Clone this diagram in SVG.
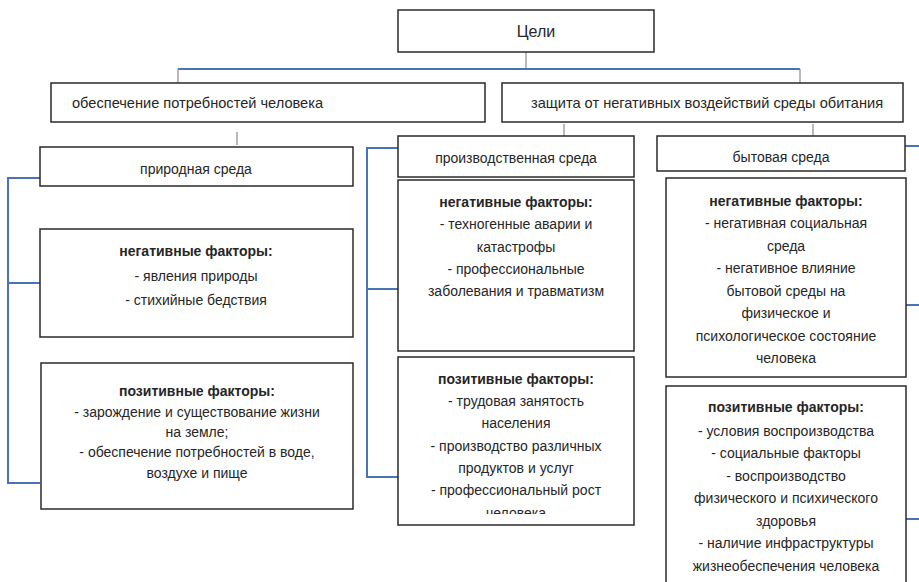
<svg xmlns="http://www.w3.org/2000/svg" width="919" height="582" viewBox="0 0 919 582">
<defs>
<style>
.box{fill:#fff;stroke:#2a2a2a;stroke-width:1.5}
.t{font-family:"Liberation Sans",Arial,sans-serif;font-size:14px;fill:#262626;text-anchor:middle}
.b{font-weight:bold}
.blue{fill:none;stroke:#4a72b8;stroke-width:2}
.tick{fill:none;stroke:#8a8a8a;stroke-width:1.2}
</style>
<clipPath id="clipMidPos"><rect x="398" y="357" width="236" height="157"/></clipPath>
</defs>
<rect width="919" height="582" fill="#fff"/>

<g id="connectors">
<path class="tick" d="M526 52V69"/>
<path class="blue" d="M178 69H800"/>
<path class="tick" d="M178 69V83M800 69V83"/>
<path class="tick" d="M237 132V145M564 124V136M813 124V136"/>
<path class="blue" d="M40 178H8V483H40M8 283H40"/>
<path class="blue" d="M398 148H367V477H398M367 289H398"/>
<path class="blue" d="M905 146H919M906 305H919M906 519H919"/>
</g>

<g id="goals">
<rect class="box" x="398" y="10" width="256" height="42"/>
<text class="t" x="536" y="37" style="font-size:16px">Цели</text>
</g>

<g id="needs">
<rect class="box" x="51" y="83" width="434" height="39"/>
<text class="t" x="72" y="108" style="text-anchor:start;font-size:14.6px">обеспечение потребностей человека</text>
</g>

<g id="protection">
<rect class="box" x="502" y="83" width="401" height="39"/>
<text class="t" x="707" y="108" style="font-size:14.6px">защита от негативных воздействий среды обитания</text>
</g>

<g id="natural">
<rect class="box" x="40" y="147" width="313" height="39"/>
<text class="t" x="196" y="174">природная среда</text>
</g>

<g id="natural-neg">
<rect class="box" x="40" y="229" width="313" height="108"/>
<text class="t b" x="196" y="256">негативные факторы:</text>
<text class="t" x="196" y="281">- явления природы</text>
<text class="t" x="196" y="305">- стихийные бедствия</text>
</g>

<g id="natural-pos">
<rect class="box" x="41" y="363" width="312" height="146"/>
<text class="t b" x="197" y="396">позитивные факторы:</text>
<text class="t" x="197" y="417">- зарождение и существование жизни</text>
<text class="t" x="197" y="437">на земле;</text>
<text class="t" x="197" y="457">- обеспечение потребностей в воде,</text>
<text class="t" x="197" y="478">воздухе и пище</text>
</g>

<g id="industrial">
<rect class="box" x="398" y="136" width="236" height="41"/>
<text class="t" x="516" y="163">производственная среда</text>
</g>

<g id="industrial-neg">
<rect class="box" x="398" y="180" width="236" height="171"/>
<text class="t b" x="516" y="207">негативные факторы:</text>
<text class="t" x="516" y="229">- техногенные аварии и</text>
<text class="t" x="516" y="252">катастрофы</text>
<text class="t" x="516" y="274">- профессиональные</text>
<text class="t" x="516" y="296">заболевания и травматизм</text>
</g>

<g id="industrial-pos">
<rect class="box" x="398" y="357" width="236" height="168"/>
<text class="t b" x="516" y="384">позитивные факторы:</text>
<text class="t" x="516" y="406">- трудовая занятость</text>
<text class="t" x="516" y="428">населения</text>
<text class="t" x="516" y="451">- производство различных</text>
<text class="t" x="516" y="473">продуктов  и услуг</text>
<text class="t" x="516" y="495">- профессиональный рост</text>
<text class="t" x="516" y="518" clip-path="url(#clipMidPos)">человека</text>
</g>

<g id="household">
<rect class="box" x="657" y="136" width="248" height="35"/>
<text class="t" x="781" y="162">бытовая среда</text>
</g>

<g id="household-neg">
<rect class="box" x="666" y="178" width="240" height="199"/>
<text class="t b" x="786" y="206">негативные факторы:</text>
<text class="t" x="786" y="228">- негативная социальная</text>
<text class="t" x="786" y="251">среда</text>
<text class="t" x="786" y="273">- негативное влияние</text>
<text class="t" x="786" y="296">бытовой среды на</text>
<text class="t" x="786" y="318">физическое и</text>
<text class="t" x="786" y="341">психологическое состояние</text>
<text class="t" x="786" y="363">человека</text>
</g>

<g id="household-pos">
<rect class="box" x="666" y="386" width="240" height="210"/>
<text class="t b" x="786" y="412">позитивные факторы:</text>
<text class="t" x="786" y="436">- условия воспроизводства</text>
<text class="t" x="786" y="458">- социальные факторы</text>
<text class="t" x="786" y="481">- воспроизводство</text>
<text class="t" x="786" y="503">физического и психического</text>
<text class="t" x="786" y="526">здоровья</text>
<text class="t" x="786" y="548">- наличие инфраструктуры</text>
<text class="t" x="786" y="571">жизнеобеспечения человека</text>
</g>
</svg>
